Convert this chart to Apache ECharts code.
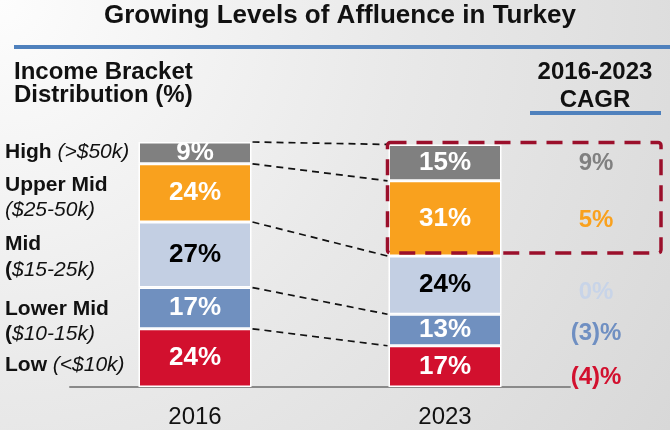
<!DOCTYPE html>
<html>
<head>
<meta charset="utf-8">
<script src="https://cdn.jsdelivr.net/npm/echarts@6/dist/echarts.min.js"></script>
<style>
  html, body { margin:0; padding:0; }
  body { width:670px; height:430px; background: radial-gradient(circle at 0 0, #fdfdfd 0%, #e9e9e9 50%, #d8d8d8 100%); }
  #chart { width:670px; height:430px; }
</style>
</head>
<body>
<div id="chart"></div>
<script>
// ---- data ----
const years = ['2016', '2023'];
const low      = [24, 17];
const lowerMid = [17, 13];
const mid      = [27, 24];
const upperMid = [24, 31];
const high     = [9, 15];
const cagrLabels = ['(4)%', '(3)%', '0%', '5%', '9%']; // low -> high
const seriesNames = ['Low', 'Lower Mid', 'Mid', 'Upper Mid', 'High'];

// ---- styles ----
const FONT = '"Liberation Sans", Arial, sans-serif';
const BAR_W = 113;
const colors = ['#D2102E', '#7090BF', '#C3CFE3', '#F9A11E', '#808080'];
const labelColors = ['#fff', '#fff', '#000', '#fff', '#fff'];
const cagrColors = ['#D2102E', '#6F8FC2', '#C8D4E8', '#F9A11E', '#808080'];
const cagrY = [377, 333, 292, 220, 163];

const stackData = [low, lowerMid, mid, upperMid, high];

function cumulative(idx) {
  const out = [0];
  let s = 0;
  stackData.forEach(arr => { s += arr[idx]; out.push(s); });
  return out;
}

const barSeries = stackData.map((arr, i) => ({
  name: seriesNames[i],
  type: 'bar',
  stack: 'total',
  barWidth: BAR_W,
  data: arr,
  itemStyle: { color: colors[i], borderColor: '#ffffff', borderWidth: 1.5 },
  label: {
    show: true,
    position: 'inside',
    formatter: '{c}%',
    fontFamily: FONT,
    fontWeight: 'bold',
    fontSize: 26,
    color: labelColors[i]
  },
  emphasis: { disabled: true }
}));

const overlay = {
  type: 'custom',
  coordinateSystem: 'cartesian2d',
  data: [[0, 0]],
  clip: false,
  silent: true,
  z: 10,
  renderItem: function (params, api) {
    const c16 = cumulative(0), c23 = cumulative(1);
    const children = [];
    for (let i = 1; i < c16.length; i++) {
      const p1 = api.coord([0, c16[i]]);
      const p2 = api.coord([1, c23[i]]);
      children.push({
        type: 'line',
        shape: { x1: p1[0] + BAR_W / 2 + 1, y1: p1[1], x2: p2[0] - BAR_W / 2 - 1, y2: p2[1] },
        style: { stroke: '#111', lineWidth: 1.7, lineDash: [7, 5] }
      });
    }
    const pTop = api.coord([1, c23[5]]);
    const pBot = api.coord([1, c23[3]]);
    const left = pTop[0] - BAR_W / 2 - 1;
    const right = api.getWidth() - 9;
    const top = pTop[1] - 2;
    const bottom = pBot[1] - 3;
    children.push({
      type: 'rect',
      shape: { x: left, y: top, width: right - left, height: bottom - top, r: 3 },
      style: { fill: 'none', stroke: '#9B0F2B', lineWidth: 3.5, lineDash: [16, 10] }
    });
    return { type: 'group', children: children };
  }
};

const rich = {
  b: { fontFamily: FONT, fontWeight: 'bold', fontSize: 21, fill: '#111', color: '#111' },
  i: { fontFamily: FONT, fontStyle: 'italic', fontSize: 21, fill: '#111', color: '#111' }
};

function txt(text, x, y, opts) {
  return {
    type: 'text',
    x: x, y: y,
    silent: true,
    style: Object.assign({
      text: text,
      fontFamily: FONT,
      fontSize: 21,
      fontWeight: 'bold',
      fill: '#111',
      textAlign: 'left',
      textVerticalAlign: 'middle'
    }, opts || {})
  };
}

const graphics = [
  txt('Growing Levels of Affluence in Turkey', 340, 16, { fontSize: 26, textAlign: 'center' }),
  { type: 'rect', silent: true, shape: { x: 14, y: 45, width: 656, height: 4 }, style: { fill: '#4F81BD' } },
  txt('Income Bracket', 14, 72, { fontSize: 24 }),
  txt('Distribution (%)', 14, 95, { fontSize: 24 }),
  txt('2016-2023', 595, 72, { fontSize: 24, textAlign: 'center' }),
  txt('CAGR', 595, 100, { fontSize: 24, textAlign: 'center' }),
  { type: 'rect', silent: true, shape: { x: 530, y: 111, width: 131, height: 4 }, style: { fill: '#4F81BD' } },
  txt('{b|High} {i|(>$50k)}', 5, 152, { rich: rich }),
  txt('{b|Upper Mid}', 5, 185, { rich: rich }),
  txt('{i|($25-50k)}', 5, 210, { rich: rich }),
  txt('{b|Mid}', 5, 244, { rich: rich }),
  txt('{b|(}{i|$15-25k)}', 5, 270, { rich: rich }),
  txt('{b|Lower Mid}', 5, 309, { rich: rich }),
  txt('{b|(}{i|$10-15k)}', 5, 334, { rich: rich }),
  txt('{b|Low} {i|(<$10k)}', 5, 365, { rich: rich })
];
cagrLabels.forEach((t, i) => {
  graphics.push(txt(t, 596, cagrY[i], { fontSize: 24, textAlign: 'center', fill: cagrColors[i] }));
});

const chart = echarts.init(document.getElementById('chart'), null, { renderer: 'canvas' });
chart.setOption({
  backgroundColor: 'transparent',
  animation: false,
  grid: { left: 70, right: 100, top: 142, bottom: 43 },
  xAxis: {
    type: 'category',
    data: years,
    axisLine: { show: true, lineStyle: { color: '#8a8a8a', width: 2 } },
    axisTick: { show: false },
    axisLabel: { fontFamily: FONT, fontSize: 24, color: '#111', margin: 18 }
  },
  yAxis: {
    type: 'value',
    min: 0,
    max: 101,
    show: false,
    splitLine: { show: false }
  },
  series: barSeries.concat([overlay]),
  graphic: graphics
});
</script>
</body>
</html>
